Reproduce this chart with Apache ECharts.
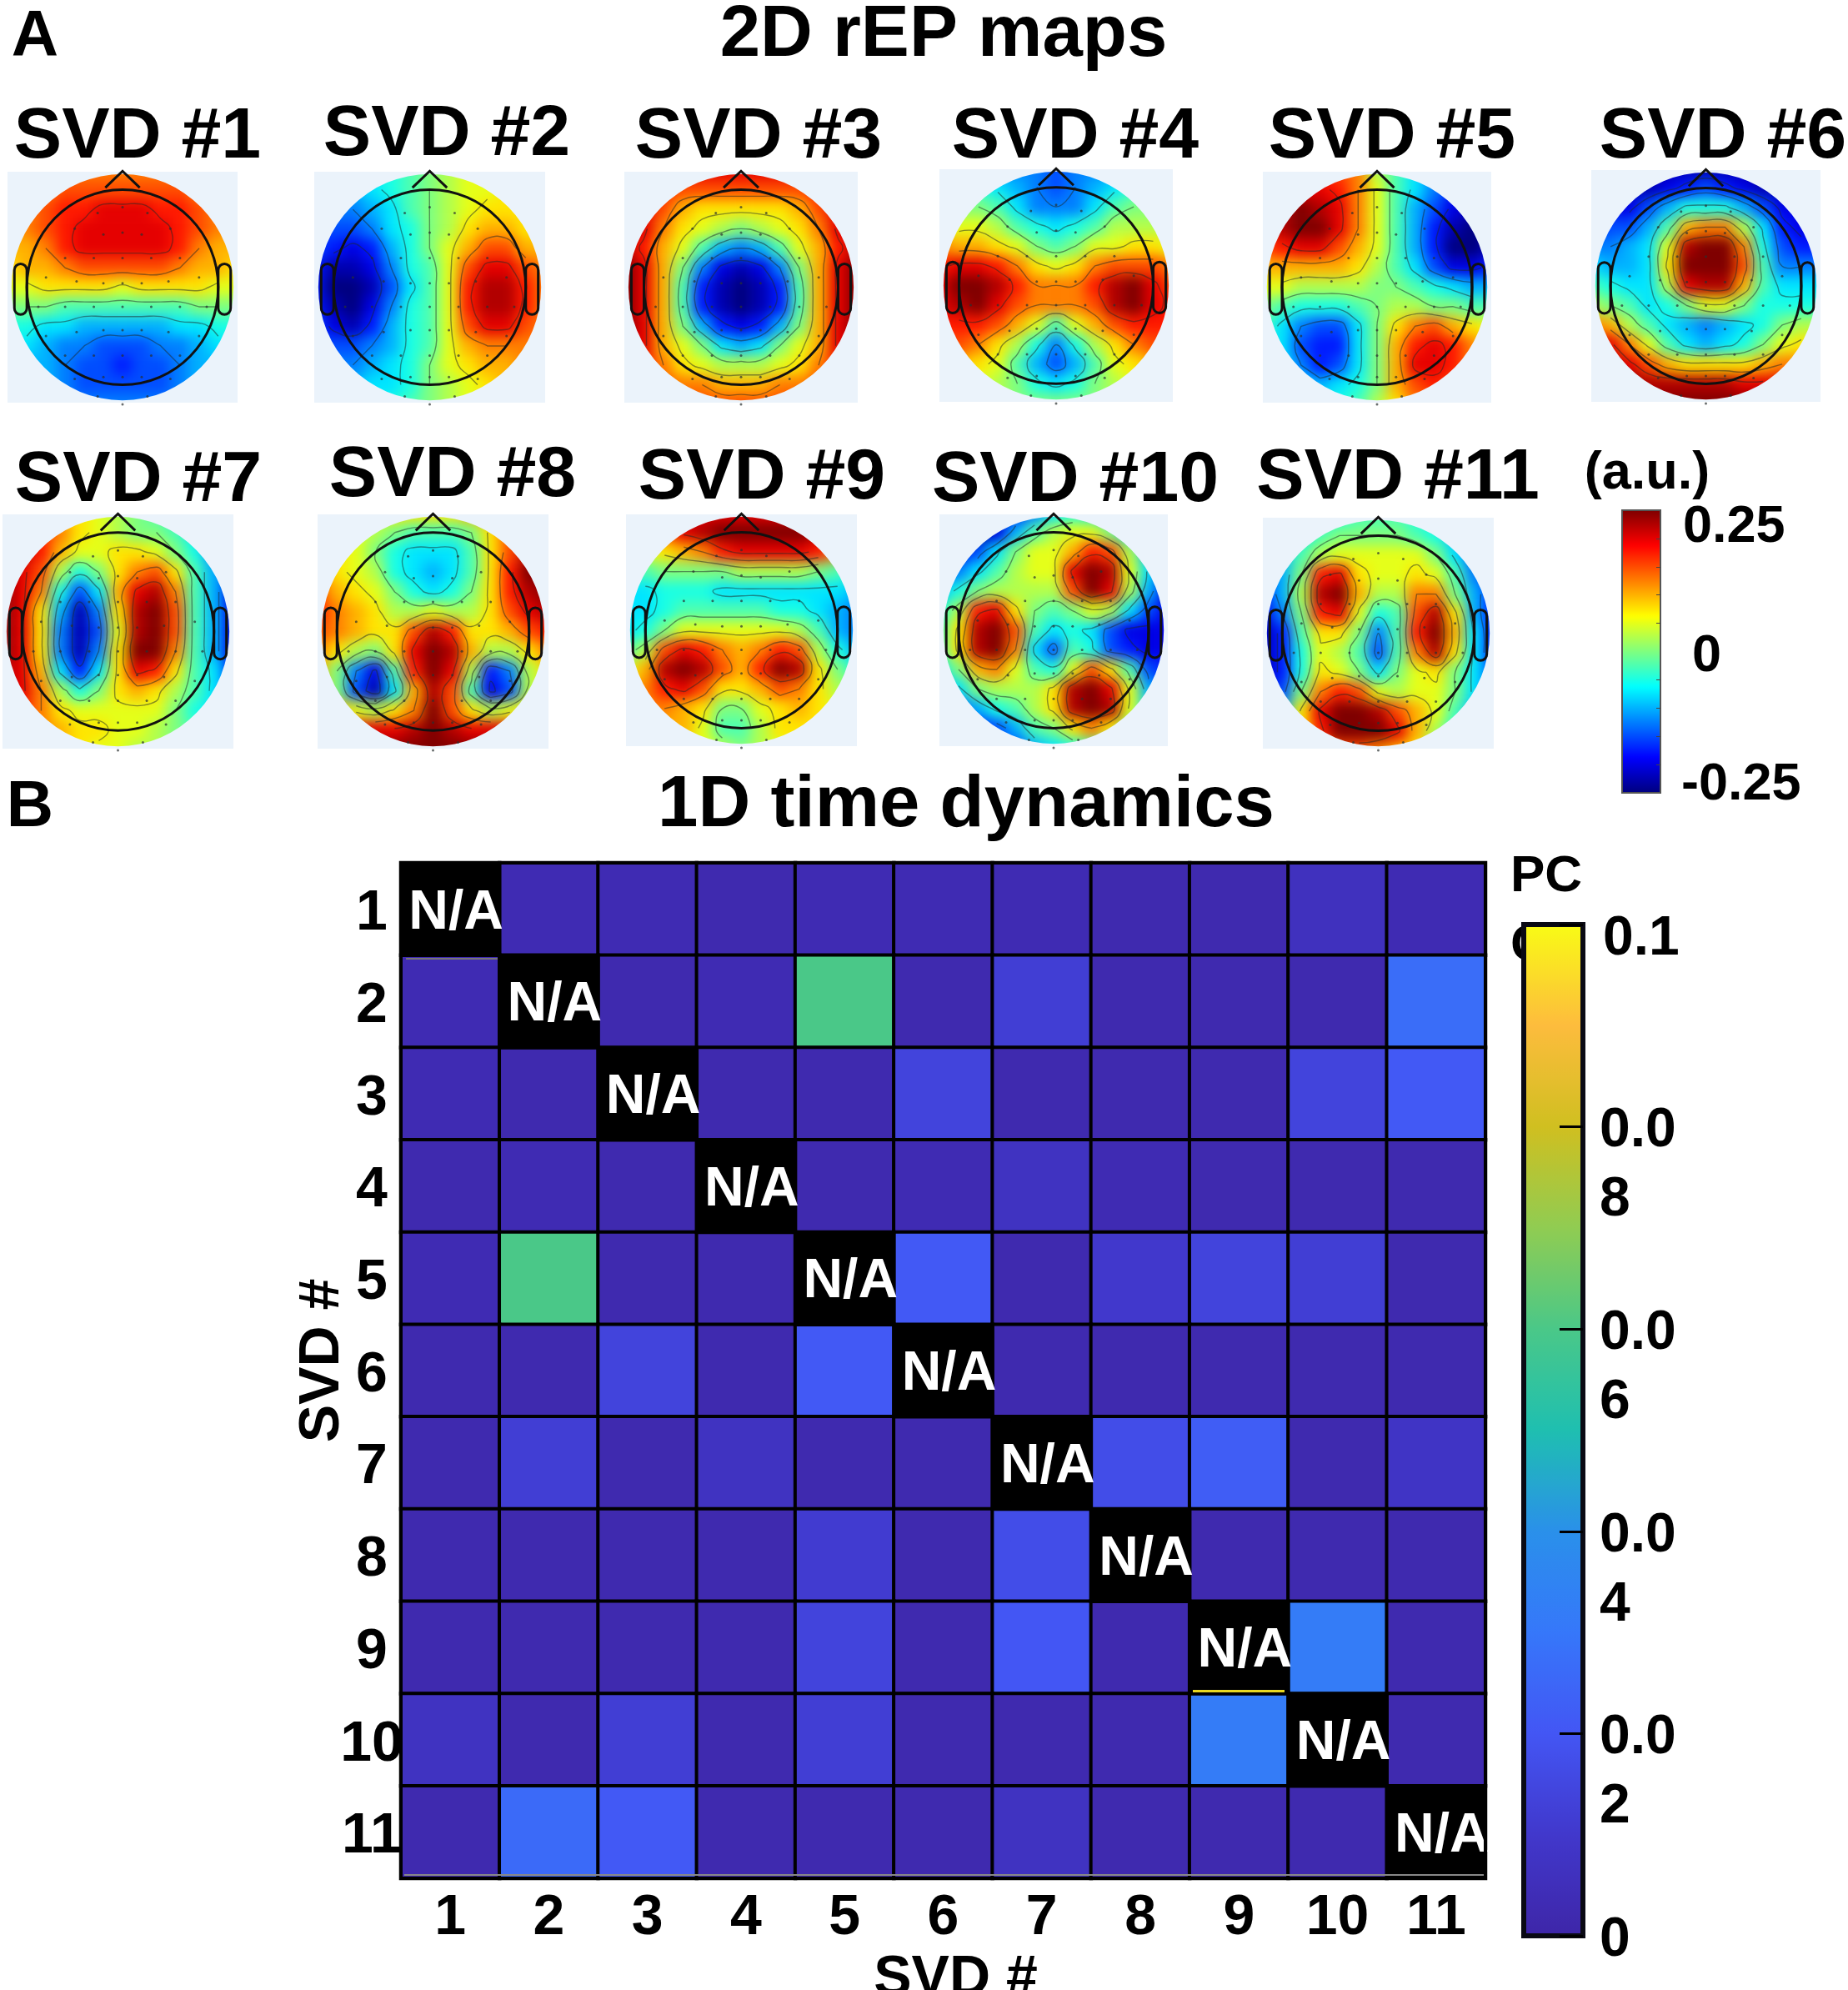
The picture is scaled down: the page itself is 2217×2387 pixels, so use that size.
<!DOCTYPE html>
<html>
<head>
<meta charset="utf-8">
<title>2D rEP maps and 1D time dynamics</title>
<script src="https://cdn.jsdelivr.net/npm/echarts@6/dist/echarts.min.js"></script>
<style>
    html, body { margin: 0; background: #fff; }
    #mapsLayer, #mainLayer { position: absolute; left: 0; top: 0; width: 2217px; height: 2387px; }
    #mapsLayer { filter: blur(8px); }
</style>
</head>
<body>
<div id="mapsLayer"></div>
<div id="mainLayer"></div>
<script>
// scalp maps, values, -10 (navy) .. 10 (dark red), top row first
var svd1 = [
    [5,5,5,5,5,5,5,5,5,5,5,5,5],
    [5,5,5,6,6,6,6,6,6,6,5,5,5],
    [5,5,6,7,7,8,8,8,7,7,6,5,5],
    [4,5,6,7,8,8,8,8,8,7,6,5,4],
    [4,4,5,7,8,8,8,8,8,7,5,4,4],
    [3,4,4,5,6,6,6,6,6,5,4,4,3],
    [2,2,3,3,3,3,2,3,3,3,3,2,2],
    [0,0,0,-1,-1,-1,-1,-1,-1,-1,0,0,0],
    [-2,-2,-3,-3,-4,-4,-4,-4,-4,-3,-3,-2,-2],
    [-3,-3,-4,-5,-5,-6,-6,-6,-5,-5,-4,-3,-3],
    [-3,-4,-4,-5,-6,-6,-7,-6,-6,-5,-4,-4,-3],
    [-4,-4,-4,-5,-6,-6,-6,-6,-6,-5,-4,-4,-4],
    [-4,-4,-5,-5,-5,-5,-5,-5,-5,-5,-5,-4,-4]
]
var svd2 = [
    [-4,-4,-3,-3,-2,-1,0,1,2,3,3,3,3],
    [-5,-4,-4,-3,-2,-1,0,1,2,2,3,3,3],
    [-5,-5,-5,-4,-3,-1,0,1,2,3,3,3,3],
    [-6,-6,-6,-5,-3,-2,0,1,3,4,4,3,3],
    [-6,-7,-8,-7,-4,-2,0,2,4,6,6,4,4],
    [-7,-9,-9,-8,-5,-2,-1,2,6,8,8,6,5],
    [-7,-10,-10,-9,-6,-3,-1,2,7,9,9,7,5],
    [-7,-9,-10,-8,-5,-2,-1,2,7,9,9,7,5],
    [-6,-8,-9,-7,-4,-2,-1,2,6,8,8,6,5],
    [-6,-6,-6,-5,-4,-2,-1,2,4,5,5,5,5],
    [-5,-5,-5,-4,-3,-2,0,2,3,4,4,5,5],
    [-4,-4,-4,-3,-3,-2,0,1,2,3,4,4,4],
    [-3,-3,-3,-3,-2,-1,0,1,2,3,3,3,3]
]
var svd3 = [
    [9,9,8,8,8,8,8,8,8,8,8,9,9],
    [9,8,7,6,6,6,6,6,6,6,7,8,9],
    [9,8,6,4,3,3,3,3,3,4,6,8,9],
    [9,8,5,3,2,1,0,1,2,3,5,8,9],
    [9,7,4,2,-1,-4,-5,-4,-1,2,4,7,9],
    [10,8,4,0,-5,-8,-9,-8,-5,0,4,8,10],
    [10,8,4,-1,-7,-9,-10,-9,-7,-1,4,8,10],
    [10,8,4,-1,-7,-9,-10,-9,-7,-1,4,8,10],
    [10,8,4,0,-4,-7,-8,-7,-4,0,4,8,10],
    [9,8,4,2,0,-3,-4,-3,0,2,4,8,9],
    [9,7,5,3,2,1,1,1,2,3,5,7,9],
    [8,7,6,5,5,4,4,4,5,5,6,7,8],
    [7,7,7,7,6,6,6,6,6,7,7,7,7]
]
var svd4 = [
    [-3,-3,-4,-5,-5,-5,-6,-5,-5,-5,-4,-3,-3],
    [-1,-2,-2,-3,-4,-5,-6,-5,-4,-3,-2,-2,-1],
    [0,0,0,-1,-3,-5,-5,-5,-3,-1,0,0,0],
    [2,2,2,1,-1,-2,-3,-2,-1,1,1,1,1],
    [5,4,4,3,2,0,-1,0,2,2,3,3,2],
    [7,8,8,7,5,3,2,3,5,6,6,6,5],
    [8,10,10,9,7,5,5,5,7,9,10,8,6],
    [8,9,10,8,6,5,5,5,6,9,10,8,7],
    [7,7,7,6,4,2,-1,2,4,6,7,7,7],
    [6,6,5,3,1,-2,-5,-2,1,3,5,6,6],
    [5,4,3,2,-1,-4,-6,-4,-1,2,3,4,5],
    [3,3,2,1,0,-2,-3,-2,0,1,2,3,3],
    [1,1,1,1,0,0,0,0,0,1,1,1,1]
]
var svd5 = [
    [5,6,6,6,6,5,1,-1,-3,-5,-6,-6,-6],
    [6,7,8,8,7,5,2,-1,-3,-5,-7,-7,-7],
    [7,9,10,9,8,5,2,-1,-4,-6,-8,-9,-8],
    [7,9,10,10,8,5,2,-1,-4,-7,-9,-10,-9],
    [6,7,8,8,6,4,2,-1,-4,-7,-10,-10,-9],
    [4,4,4,4,4,3,1,-1,-3,-6,-8,-8,-7],
    [2,2,1,1,1,1,0,0,-1,-2,-3,-4,-4],
    [0,-1,-2,-2,-2,-1,0,1,1,0,0,-1,-1],
    [-1,-3,-5,-6,-6,-3,0,3,5,6,4,3,2],
    [-2,-3,-6,-7,-7,-3,0,4,7,8,7,5,3],
    [-2,-3,-5,-7,-6,-3,0,4,8,8,7,5,4],
    [-2,-3,-3,-4,-3,-2,0,4,6,7,6,5,4],
    [-1,-2,-2,-2,-2,-1,1,3,5,5,5,4,4]
]
var svd6 = [
    [-8,-8,-9,-9,-9,-9,-9,-9,-9,-9,-9,-8,-8],
    [-8,-9,-9,-9,-8,-7,-6,-7,-8,-9,-9,-9,-8],
    [-8,-8,-8,-6,-4,-2,-2,-2,-4,-6,-8,-8,-8],
    [-7,-6,-6,-4,-1,4,5,5,1,-3,-7,-8,-8],
    [-5,-5,-4,-3,2,9,10,10,5,-2,-6,-7,-7],
    [-3,-4,-4,-3,3,10,10,10,6,-1,-5,-5,-5],
    [-1,-2,-3,-3,1,8,9,9,4,-1,-3,-3,-3],
    [1,0,-1,-3,-2,0,2,2,0,-2,-2,-2,-2],
    [5,4,1,-1,-3,-4,-5,-4,-3,-2,0,1,1],
    [8,8,5,2,-1,-3,-4,-3,-2,0,2,3,3],
    [9,9,8,6,4,3,3,3,3,4,5,5,5],
    [10,10,10,9,9,9,9,9,8,8,8,7,7],
    [10,10,10,10,10,10,10,10,10,10,9,8,8]
]
var svd7 = [
    [8,8,6,4,3,2,1,0,-1,-3,-5,-6,-6],
    [9,9,7,5,3,2,1,0,0,-1,-3,-6,-7],
    [10,9,7,4,2,2,3,3,2,0,-2,-5,-7],
    [10,8,6,1,-2,0,3,5,6,3,-1,-4,-7],
    [10,8,5,-2,-6,-3,4,8,9,5,-1,-4,-8],
    [10,8,3,-4,-9,-5,3,9,10,6,-1,-4,-8],
    [10,8,3,-5,-9,-6,2,9,10,6,-1,-4,-8],
    [10,8,3,-5,-9,-5,3,10,10,5,-1,-4,-8],
    [9,8,4,-3,-7,-3,3,8,7,3,-1,-3,-7],
    [9,8,5,1,-2,0,3,4,3,1,-1,-3,-6],
    [8,7,5,3,2,2,2,2,2,0,-2,-3,-5],
    [7,6,5,4,3,3,2,2,1,0,-1,-3,-4],
    [5,5,4,4,3,2,2,1,1,0,-1,-2,-3]
]
var svd8 = [
    [2,2,2,2,3,3,3,3,4,5,6,6,6],
    [3,3,2,1,0,-1,-1,-1,0,3,6,8,8],
    [4,3,2,0,-2,-3,-3,-3,-1,3,6,9,9],
    [5,3,2,1,-2,-3,-4,-3,-1,3,7,10,10],
    [6,4,3,2,0,-2,-3,-2,0,3,7,9,10],
    [7,5,4,3,1,1,2,1,1,3,6,8,9],
    [6,5,4,3,3,6,9,7,3,3,4,6,7],
    [5,3,1,0,3,8,10,9,4,1,1,3,5],
    [4,0,-5,-8,-1,7,10,8,1,-7,-5,1,3],
    [4,0,-6,-9,-3,4,9,6,-1,-8,-6,1,3],
    [5,4,2,1,3,5,10,6,3,1,2,3,4],
    [8,8,8,8,8,9,10,9,8,8,8,8,8],
    [10,10,10,10,10,10,10,10,10,10,10,10,10]
]
var svd9 = [
    [7,7,7,8,8,8,8,8,8,8,8,7,7],
    [4,5,6,8,9,10,10,10,10,10,9,8,7],
    [2,2,3,4,5,7,8,8,8,8,7,5,3],
    [-1,-1,0,0,0,0,1,1,1,1,0,-1,-2],
    [-3,-3,-2,-2,-2,-3,-3,-3,-3,-3,-3,-3,-4],
    [-3,-3,-2,-1,-1,-1,-1,-1,-2,-2,-3,-4,-5],
    [-3,-2,0,2,2,2,2,2,2,1,-1,-4,-5],
    [-1,1,6,8,7,5,4,5,7,6,1,-2,-4],
    [2,4,9,10,9,6,4,7,10,9,3,0,-2],
    [3,5,7,8,6,3,3,4,6,5,3,1,0],
    [4,5,5,4,3,0,0,2,3,4,3,2,1],
    [4,4,4,4,2,-1,-1,1,3,3,3,3,2],
    [4,4,4,3,2,1,0,1,2,3,3,3,3]
]
var svd10 = [
    [-9,-10,-10,-9,-7,-5,-3,-2,-3,-5,-6,-7,-7],
    [-9,-10,-10,-8,-4,-1,1,2,2,0,-3,-6,-8],
    [-8,-8,-6,-3,0,2,2,4,7,6,1,-4,-8],
    [-6,-5,-3,-1,1,2,2,8,10,9,2,-3,-8],
    [-4,-2,0,1,1,1,1,6,10,8,1,-4,-8],
    [-2,1,7,8,3,0,-1,0,2,1,-3,-6,-8],
    [-1,3,9,10,6,-1,-3,-2,-3,-6,-8,-8,-8],
    [-1,3,9,10,5,-3,-6,-1,-2,-6,-7,-8,-8],
    [-3,0,4,5,2,-1,-2,2,6,3,-1,-6,-7],
    [-5,-3,0,1,1,1,3,9,10,8,2,-4,-6],
    [-7,-6,-4,-2,-1,1,3,9,10,9,2,-3,-5],
    [-8,-8,-7,-6,-4,-1,0,3,5,3,0,-4,-5],
    [-8,-8,-8,-7,-6,-4,-3,-2,-1,-2,-4,-5,-5]
]
var svd11 = [
    [-5,-5,-4,-3,-2,-1,-1,-1,-2,-3,-5,-6,-6],
    [-6,-5,-3,-1,0,0,0,0,-1,-2,-4,-6,-7],
    [-6,-4,-1,1,2,2,2,2,2,0,-3,-6,-7],
    [-7,-4,0,7,8,3,2,2,3,2,-1,-5,-7],
    [-7,-4,1,9,10,4,1,1,5,5,0,-4,-7],
    [-8,-5,0,7,8,2,-2,-1,6,9,3,-4,-7],
    [-9,-7,-1,3,3,0,-5,-1,7,10,4,-3,-7],
    [-9,-7,-2,2,1,-1,-6,-1,5,9,3,-3,-7],
    [-9,-7,-2,3,2,0,-3,0,2,3,0,-3,-6],
    [-8,-6,0,5,7,6,2,1,2,2,0,-3,-6],
    [-6,-4,3,8,10,10,9,6,4,2,-1,-4,-6],
    [-4,-2,3,7,10,10,10,8,4,1,-2,-4,-6],
    [-2,0,2,5,6,6,5,4,3,0,-2,-4,-6]
]
var svdMaps = [svd1, svd2, svd3, svd4, svd5, svd6, svd7, svd8, svd9, svd10, svd11]

// electrodes in the same column / row units as the maps
var electrodes = [[6,1.9],[4.7,2.2],[7.3,2.2],[3.5,3],[5,3.3],[6,3.2],[7,3.3],[8.5,3],[3,4.5],[4.5,4.5],[6,4.5],[7.5,4.5],[9,4.5],
    [2,5.5],[3.6,5.7],[5,5.8],[6,5.8],[7,5.8],[8.4,5.7],[10,5.5],[1.6,7],[3,7],[4.5,7],[6,7],[7.5,7],[9,7],[10.4,7],
    [2,8.5],[3.6,8.3],[5,8.2],[6,8.2],[7,8.2],[8.4,8.3],[10,8.5],[3,9.5],[4.5,9.5],[6,9.5],[7.5,9.5],[9,9.5],
    [3.5,10.7],[5,10.6],[6,10.6],[7,10.6],[8.5,10.7],[4.7,11.6],[6,12],[7.3,11.6]]
var contourLevels = [-7.5, -5, -2.5, 0, 2.5, 5, 7.5]

var svdNames = ['SVD #1', 'SVD #2', 'SVD #3', 'SVD #4', 'SVD #5', 'SVD #6', 'SVD #7', 'SVD #8', 'SVD #9', 'SVD #10', 'SVD #11']
var svdNameX = [165, 536, 910, 1290, 1670, 2067, 166, 543, 914, 1290, 1677]
var svdNameY = [165, 162, 165, 165, 165, 165, 577, 571, 574, 577, 574]
// x0, y0, x1, y1 of the pale box behind each map
var mapPanels = [[9,206,285,483], [377,206,654,483], [749,206,1029,483], [1127,203,1407,482], [1515,206,1789,483], [1909,204,2184,482],
    [3,617,280,898], [381,617,658,898], [751,617,1028,895], [1127,617,1401,895], [1515,621,1792,898]]

var svdTicks = ['1', '2', '3', '4', '5', '6', '7', '8', '9', '10', '11']
var jetTickLabels = ['0.25', '0', '-0.25']
// phase correlation between components, null on the diagonal (N/A)
var pcc = [
    [null,.003,.003,.002,.003,.003,.003,.002,.002,.006,.003],
    [.003,null,.002,.003,.06,.002,.012,.002,.002,.002,.027],
    [.003,.002,null,.002,.002,.014,.002,.002,.002,.014,.021],
    [.002,.003,.002,null,.002,.003,.007,.003,.002,.002,.002],
    [.003,.06,.002,.002,null,.021,.002,.010,.014,.012,.002],
    [.002,.002,.014,.002,.021,null,.002,.002,.002,.002,.002],
    [.002,.012,.002,.007,.002,.002,null,.017,.022,.002,.008],
    [.002,.002,.002,.002,.011,.002,.017,null,.002,.002,.002],
    [.002,.002,.002,.002,.014,.002,.02,.002,null,.032,.002],
    [.007,.002,.012,.002,.012,.002,.002,.002,.032,null,.002],
    [.002,.026,.021,.002,.002,.002,.007,.002,.002,.002,null]
]
var pccColors = ['#3e26a8', '#4138cc', '#4356f4', '#3677fa', '#2a90ea', '#1fbfb0', '#4ac888', '#90cc52', '#d0bf20', '#fdbc3d', '#f9fb15']
var jetColors = ['#00007f', '#0000ff', '#007fff', '#00ffff', '#7fff7f', '#ffff00', '#ff7f00', '#ff0000', '#7f0000']

var FONT = '"Liberation Sans", Arial, sans-serif'

function boldText(size) {
    return { fontFamily: FONT, fontWeight: 'bold', fontSize: size, color: '#000' }
}

// head ellipse and the 13 x 13 cell box around it, from a map's pale panel
function mapFrame(p) {
    var cx = (p[0] + p[2]) / 2, cy = (p[1] + p[3]) / 2
    var rx = (p[2] - p[0]) / 2 * 0.965, ry = (p[3] - p[1]) / 2 * 0.98
    var u = rx / 5.8, v = ry / 5.8
    return { cx: cx, cy: cy, rx: rx, ry: ry, grid: { left: cx - 6.5 * u, top: cy - 6.5 * v, width: 13 * u, height: 13 * v, outerBoundsMode: 'none' } }
}

// the blurred layer: one heatmap per map
function buildMaps() {
    var option = { animation: false, grid: [], xAxis: [], yAxis: [], series: [],
        visualMap: { show: false, type: 'continuous', min: -10, max: 10, seriesIndex: 'all', inRange: { color: jetColors } } }
    svdMaps.forEach(function (matrix, m) {
        var cells = []
        matrix.forEach(function (row, r) {
            row.forEach(function (val, c) { cells.push([c, r, val]) })
        })
        var idx = []
        for (var i = 0; i < 13; i++) idx.push(i)
        option.grid.push(mapFrame(mapPanels[m]).grid)
        option.xAxis.push({ type: 'category', gridIndex: m, data: idx, show: false })
        option.yAxis.push({ type: 'category', gridIndex: m, data: idx, show: false, inverse: true })
        option.series.push({ type: 'heatmap', xAxisIndex: m, yAxisIndex: m, data: cells, progressive: 0 })
    })
    var el = document.getElementById('mapsLayer')
    var clip = mapPanels.map(function (p) {
        return 'M' + p[0] + ' ' + p[1] + 'H' + p[2] + 'V' + p[3] + 'H' + p[0] + 'Z'
    }).join('')
    el.style.clipPath = 'path("' + clip + '")'
    echarts.init(el).setOption(option)
}

// contour lines by marching squares over one matrix, joined up into chains
function contourChains(matrix) {
    var chains = []
    function inHead(pt) {
        var dx = pt[0] - 6, dy = pt[1] - 6
        return dx * dx + dy * dy < 5.75 * 5.75
    }
    function key(pt) { return pt[0].toFixed(3) + ',' + pt[1].toFixed(3) }
    contourLevels.forEach(function (lv) {
        var segs = []
        for (var r = 0; r < 12; r++) {
            for (var c = 0; c < 12; c++) {
                var a = matrix[r][c] + 0.01, b = matrix[r][c + 1] + 0.01, d = matrix[r + 1][c] + 0.01, e = matrix[r + 1][c + 1] + 0.01
                var pts = []
                if ((a - lv) * (b - lv) < 0) pts.push([c + (lv - a) / (b - a), r])
                if ((b - lv) * (e - lv) < 0) pts.push([c + 1, r + (lv - b) / (e - b)])
                if ((d - lv) * (e - lv) < 0) pts.push([c + (lv - d) / (e - d), r + 1])
                if ((a - lv) * (d - lv) < 0) pts.push([c, r + (lv - a) / (d - a)])
                if (pts.length >= 2 && inHead(pts[0]) && inHead(pts[1])) segs.push([pts[0], pts[1]])
                if (pts.length === 4 && inHead(pts[2]) && inHead(pts[3])) segs.push([pts[2], pts[3]])
            }
        }
        while (segs.length) {
            var chain = segs.pop().slice()
            var grown = true
            while (grown) {
                grown = false
                for (var i = 0; i < segs.length; i++) {
                    var s = segs[i], head = key(chain[0]), tail = key(chain[chain.length - 1])
                    if (key(s[0]) === tail) chain.push(s[1])
                    else if (key(s[1]) === tail) chain.push(s[0])
                    else if (key(s[0]) === head) chain.unshift(s[1])
                    else if (key(s[1]) === head) chain.unshift(s[0])
                    else continue
                    segs.splice(i, 1)
                    grown = true
                    break
                }
            }
            chains.push(chain)
        }
    })
    return chains
}

function headRenderer(m) {
    var chains = contourChains(svdMaps[m])
    var p = mapPanels[m], f = mapFrame(p)
    return function (params, api) {
        var children = chains.map(function (chain) {
            return { type: 'polyline', shape: { points: chain.map(function (pt) { return api.coord(pt) }), smooth: 0.5 },
                style: { fill: null, stroke: 'rgba(30,40,40,0.5)', lineWidth: 1.4 } }
        })
        // pale box with the head cut out of it, it hides what lies outside the head
        var pathData = 'M' + p[0] + ' ' + p[1] + 'H' + p[2] + 'V' + p[3] + 'H' + p[0] + 'Z' +
            'M' + (f.cx - f.rx) + ' ' + f.cy + 'A' + f.rx + ' ' + f.ry + ' 0 1 0 ' + (f.cx + f.rx) + ' ' + f.cy +
            'A' + f.rx + ' ' + f.ry + ' 0 1 0 ' + (f.cx - f.rx) + ' ' + f.cy + 'Z'
        children.push({ type: 'path', shape: { pathData: pathData }, style: { fill: '#ebf3fb', stroke: null } })
        var line = { fill: null, stroke: '#111', lineWidth: 3 }
        var tip = api.coord([6, 0.05]), n0 = api.coord([5.1, 0.9]), n1 = api.coord([6.9, 0.9])
        children.push({ type: 'polyline', shape: { points: [n0, tip, n1] }, style: line })
        var h0 = api.coord([1, 1]), h1 = api.coord([11, 11])
        children.push({ type: 'ellipse', shape: { cx: (h0[0] + h1[0]) / 2, cy: (h0[1] + h1[1]) / 2, rx: (h1[0] - h0[0]) / 2, ry: (h1[1] - h0[1]) / 2 }, style: line })
        var e0 = api.coord([0.35, 4.8]), e1 = api.coord([1, 7.4]), e2 = api.coord([11, 4.8]), e3 = api.coord([11.65, 7.4])
        children.push({ type: 'rect', shape: { x: e0[0], y: e0[1], width: e1[0] - e0[0], height: e1[1] - e0[1], r: 8 }, style: line })
        children.push({ type: 'rect', shape: { x: e2[0], y: e2[1], width: e3[0] - e2[0], height: e3[1] - e2[1], r: 8 }, style: line })
        return { type: 'group', children: children }
    }
}

function buildMain() {
    var pccCells = [], naCells = []
    pcc.forEach(function (row, r) {
        row.forEach(function (val, c) {
            if (val === null) naCells.push([c, r, 1])
            else pccCells.push([c, r, val])
        })
    })
    var innerTick = { alignWithLabel: true, inside: true, length: 12, lineStyle: { color: '#1c1450', width: 2 } }

    var titles = [
        { text: 'A', left: 42, top: 45, textStyle: boldText(78) },
        { text: '2D rEP maps', left: 1132, top: 43, textStyle: boldText(87) },
        { text: 'B', left: 36, top: 969, textStyle: boldText(78) },
        { text: '1D time dynamics', left: 1159, top: 967, textStyle: boldText(87) },
        { text: '(a.u.)', left: 1976, top: 569, textStyle: boldText(63) },
        { text: jetTickLabels[0], left: 2019, top: 633, textAlign: 'left', textStyle: boldText(63) },
        { text: jetTickLabels[1], left: 2030, top: 788, textAlign: 'left', textStyle: boldText(63) },
        { text: jetTickLabels[2], left: 2017, top: 942, textAlign: 'left', textStyle: boldText(63) },
        { text: 'PC\nC', left: 1812, top: 1093, textAlign: 'left', z: 0, textStyle: Object.assign(boldText(62), { lineHeight: 83 }) },
        { text: '0.1', left: 1923, top: 1127, textAlign: 'left', textStyle: boldText(66) }
    ]
    svdNames.forEach(function (name, i) {
        titles.push({ text: name, left: svdNameX[i], top: svdNameY[i], textStyle: boldText(86) })
    })
    titles.forEach(function (t) {
        t.textAlign = t.textAlign || 'center'
        t.textVerticalAlign = 'middle'
        t.padding = 0
    })

    var option = {
        animation: false,
        title: titles,
        grid: [
            { left: 481, top: 1035, width: 1301, height: 1218, show: true, z: 4, outerBoundsMode: 'none', backgroundColor: 'transparent', borderColor: '#000', borderWidth: 4 },
            { left: 1946, top: 612, width: 46, height: 339, show: true, z: 4, outerBoundsMode: 'none', backgroundColor: 'transparent', borderColor: '#555', borderWidth: 2 },
            { left: 1828, top: 1109, width: 71, height: 1213, show: true, z: 4, outerBoundsMode: 'none', backgroundColor: 'transparent', borderColor: '#0a0a14', borderWidth: 6 }
        ],
        xAxis: [
            { type: 'category', gridIndex: 0, data: svdTicks, position: 'bottom', z: 4,
                name: 'SVD #', nameLocation: 'middle', nameGap: 64, nameTextStyle: Object.assign(boldText(68), { padding: [0, 0, 0, 30] }),
                axisLine: { show: false }, axisTick: innerTick, splitLine: { show: false },
                axisLabel: Object.assign(boldText(68), { margin: 14, interval: 0 }) },
            { type: 'category', gridIndex: 0, data: svdTicks, position: 'top', z: 4,
                axisLine: { show: false }, axisTick: innerTick, axisLabel: { show: false } },
            { type: 'value', gridIndex: 1, show: false },
            { type: 'value', gridIndex: 2, show: false }
        ],
        yAxis: [
            { type: 'category', gridIndex: 0, data: svdTicks, inverse: true, position: 'left', z: 4,
                name: 'SVD #', nameLocation: 'middle', nameRotate: 90, nameGap: 60, nameMoveOverlap: false,
                nameTextStyle: Object.assign(boldText(68), { padding: [0, 0, 0, 24] }),
                axisLine: { show: false }, axisTick: innerTick, splitLine: { show: false },
                axisLabel: Object.assign(boldText(68), { margin: 35, align: 'center', interval: 0, verticalAlign: 'top', lineHeight: 68, padding: [-28, 0, 0, 0] }) },
            { type: 'category', gridIndex: 0, data: svdTicks, inverse: true, position: 'right', z: 4,
                axisLine: { show: false }, axisTick: innerTick, axisLabel: { show: false } },
            { type: 'value', gridIndex: 1, position: 'right', min: -0.25, max: 0.25, interval: 0.25, z: 4,
                axisLine: { show: false, onZero: false }, splitLine: { show: false }, axisTick: { show: false, inside: true },
                minorTick: { show: true, splitNumber: 5, length: 5, lineStyle: { color: '#444', width: 1 } },
                axisLabel: { show: false } },
            { type: 'value', gridIndex: 2, position: 'right', min: 0, max: 0.1, interval: 0.02, z: 4,
                axisLine: { show: false, onZero: false }, splitLine: { show: false },
                axisTick: { inside: true, length: 28, lineStyle: { color: '#000', width: 3 } },
                axisLabel: Object.assign(boldText(66), { margin: 20, lineHeight: 83, verticalAlign: 'top', padding: [-36, 0, 0, 0],
                    formatter: function (v) {
                        if (v === 0) return '0'
                        if (v === 0.1) return ''
                        // the label wraps after 0.0 in the figure
                        return '0.0\n' + Math.round(v * 100)
                    } }) }
        ],
        visualMap: [
            { type: 'continuous', min: 0, max: 0.1, seriesIndex: [0], inRange: { color: pccColors }, left: 1828, top: 1109,
                itemWidth: 71, itemHeight: 1213, padding: 0, text: null, calculable: false, showLabel: false, z: 1, textStyle: { fontSize: 0 } },
            { type: 'continuous', min: -0.25, max: 0.25, seriesIndex: [], inRange: { color: jetColors }, left: 1946, top: 612,
                itemWidth: 46, itemHeight: 339, padding: 0, text: null, calculable: false, showLabel: false, z: 1, textStyle: { fontSize: 0 } }
        ],
        graphic: [
            { type: 'rect', shape: { x: 1431, y: 2027, width: 110, height: 3 }, style: { fill: '#e8d820' }, z: 5 },
            { type: 'rect', shape: { x: 487, y: 1149, width: 110, height: 2 }, style: { fill: '#777' }, z: 5 },
            { type: 'rect', shape: { x: 485, y: 2248, width: 1295, height: 2 }, style: { fill: '#888' }, z: 5 }
        ],
        series: [
            { type: 'heatmap', name: 'PCC', xAxisIndex: 0, yAxisIndex: 0, data: pccCells, progressive: 0,
                itemStyle: { borderColor: '#000', borderWidth: 4 } },
            { type: 'heatmap', name: 'N/A', xAxisIndex: 0, yAxisIndex: 0, data: naCells, progressive: 0,
                itemStyle: { color: '#000', borderColor: '#000', borderWidth: 4 },
                label: { show: true, formatter: 'N/A', fontFamily: FONT, fontWeight: 'bold', fontSize: 66, color: '#fff',
                    verticalAlign: 'top', lineHeight: 66, padding: [-28, 0, 0, 14] } }
        ]
    }

    svdMaps.forEach(function (matrix, m) {
        var ax = 3 + m + 1
        option.grid.push(mapFrame(mapPanels[m]).grid)
        option.xAxis.push({ type: 'value', gridIndex: 3 + m, min: -0.5, max: 12.5, show: false })
        option.yAxis.push({ type: 'value', gridIndex: 3 + m, min: -0.5, max: 12.5, inverse: true, show: false })
        option.series.push({ type: 'custom', xAxisIndex: ax, yAxisIndex: ax, data: [[0, 0]], clip: false, silent: true, renderItem: headRenderer(m) })
        option.series.push({ type: 'scatter', xAxisIndex: ax, yAxisIndex: ax, data: electrodes, symbolSize: 3, silent: true, z: 3,
            itemStyle: { color: '#2a3030', opacity: 0.7 } })
    })
    echarts.init(document.getElementById('mainLayer')).setOption(option)
}

buildMaps()
buildMain()
</script>
</body>
</html>
